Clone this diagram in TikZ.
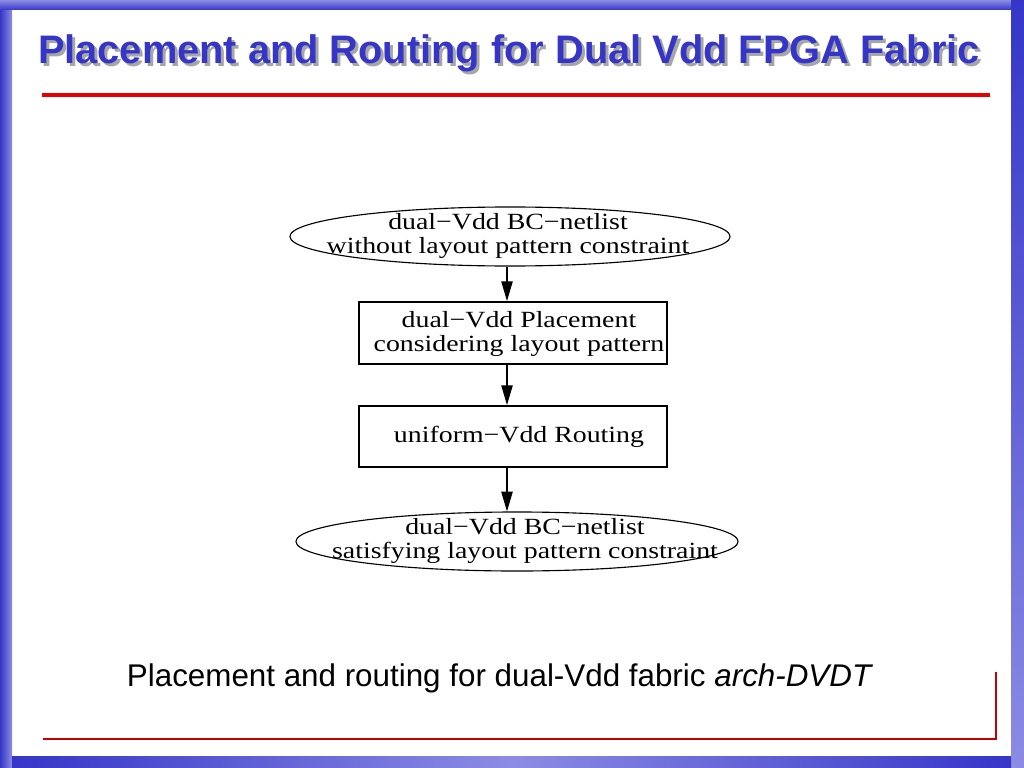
\documentclass[tikz,border=0pt]{standalone}
\usepackage{fontspec}
\setmainfont{Liberation Serif}
\setsansfont{Liberation Sans}
\usetikzlibrary{arrows.meta,positioning,shapes.geometric}
\definecolor{slideBlue}{HTML}{3535C8}
\definecolor{slideLight}{HTML}{8C8CE4}
\definecolor{slideRed}{HTML}{E60000}
\definecolor{slideShadow}{HTML}{A6A6A6}

\begin{document}
\begin{tikzpicture}[x=0.025cm,y=-0.025cm,
    flowtext/.style={font=\fontsize{16.5}{17}\selectfont,align=center,inner sep=0pt,xscale=1.2},
    stepbox/.style={draw,line width=1.3pt,minimum width=7.7cm,inner sep=0pt},
    netlist/.style={draw,ellipse,line width=0.8pt,minimum width=11cm,minimum height=1.475cm,inner sep=0pt},
    flow/.style={line width=1pt,-{Triangle[length=14pt,width=8pt]}}]
  \useasboundingbox (0,0) rectangle (1024,768);
  % slide frame
  \shade[left color=slideBlue,right color=slideLight] (0,0) rectangle (12,768);
  \shade[top color=slideLight,bottom color=slideBlue] (0,0) rectangle (1024,10);
  \shade[top color=slideBlue,bottom color=slideLight] (1011,0) rectangle (1024,768);
  \shade[left color=slideBlue,right color=slideBlue,middle color=slideLight] (12,756) rectangle (1011,768);
  % title
  \node[text=slideShadow,font=\fontsize{28.3}{32}\selectfont\sffamily\bfseries] (titleshadow) at (512,56)
    {Placement and Routing for Dual Vdd FPGA Fabric};
  \node[text=slideBlue,font=\fontsize{28.3}{32}\selectfont\sffamily\bfseries] (title) at (509,53)
    {Placement and Routing for Dual Vdd FPGA Fabric};
  \draw[slideRed,line width=2.8pt] (42,95) -- (990,95);
  % flow
  \coordinate (axis) at (507,0);
  \node[netlist] (netin) at (510,236.5) {};
  \node[flowtext] (netintxt) at (508,236) {dual−Vdd BC−netlist\\without layout pattern constraint};
  \node[stepbox,minimum height=1.55cm] (place) at (513,333) {};
  \node[flowtext] (placetxt) at (519,334) {dual−Vdd Placement\\considering layout pattern};
  \node[stepbox,minimum height=1.525cm] (route) at (513,436.5) {};
  \node[flowtext] (routetxt) at (519,437) {uniform−Vdd Routing};
  \node[netlist,minimum width=11.05cm] (netout) at (517,541.5) {};
  \node[flowtext] (netouttxt) at (525,541) {dual−Vdd BC−netlist\\satisfying layout pattern constraint};
  \draw[flow] (netin.south -| axis) -- (place.north -| axis);
  \draw[flow] (place.south -| axis) -- (route.north -| axis);
  \draw[flow] (route.south -| axis) -- (netout.north -| axis);
  % caption
  \node[font=\fontsize{22.3}{26}\selectfont\sffamily] (caption) at (500,678)
    {Placement and routing for dual-Vdd fabric \textit{arch-DVDT}};
  \draw[slideRed!85!black,line width=2.1pt] (43,739) -- (996,739) -- (996,672);
\end{tikzpicture}
\end{document}
